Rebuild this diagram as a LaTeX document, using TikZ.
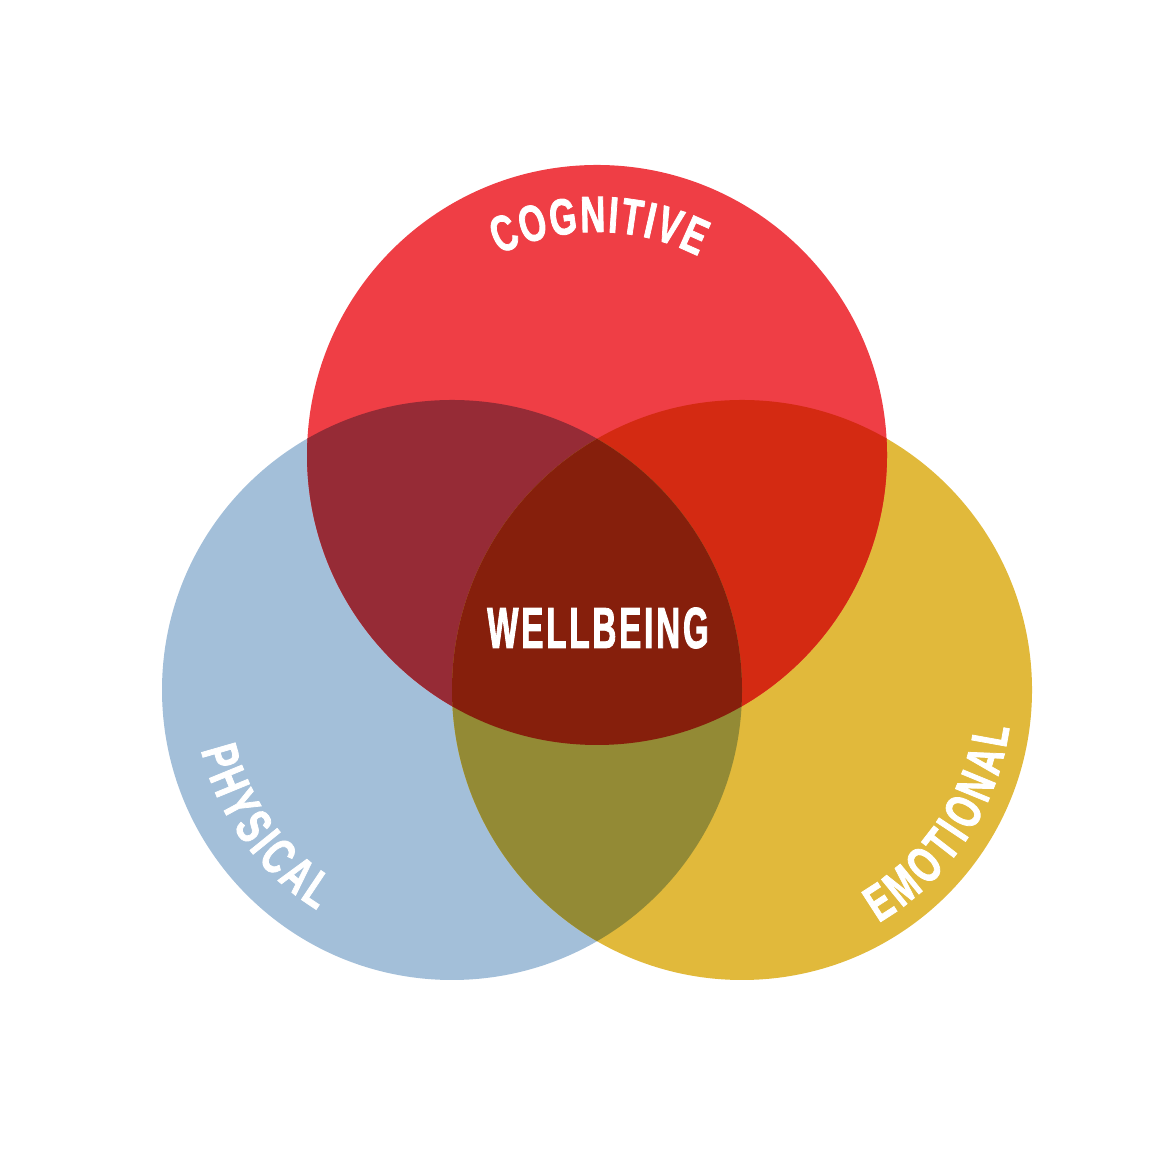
\documentclass[tikz,border=0pt]{standalone}
\usepackage{fontspec}
\newfontfamily\labelfont{Liberation Sans Bold}[FakeStretch=0.68,FakeBold=1.5]
\newfontfamily\wellfont{Liberation Sans Bold}[FakeStretch=0.57,FakeBold=1.5,LetterSpace=5]
\usetikzlibrary{decorations.text}
\definecolor{cogred}{HTML}{EF3E45}
\definecolor{physblue}{HTML}{A3BFD9}
\definecolor{emoyellow}{HTML}{E1B93B}
\definecolor{cogphys}{HTML}{962B36}
\definecolor{cogemo}{HTML}{D42A12}
\definecolor{physemo}{HTML}{938A35}
\definecolor{wellred}{HTML}{861F0C}
\tikzset{%
ring/.style={circle,minimum size=5.8cm,inner sep=0pt,outer sep=0pt,fill=#1},
arclabel/.style={decorate,decoration={text along path,text color=white,text align=fit to path,
                 text={|\labelfont\fontsize{14.5pt}{14.5pt}\selectfont|#1}}},
centerlabel/.style={text=white,inner sep=0pt,font=\wellfont\fontsize{16.5pt}{16.5pt}\selectfont}
}
\begin{document}
\begin{tikzpicture}
\useasboundingbox (0,0) rectangle (11.7,11.7);
\node[ring=physblue]   (phys) at (4.52,4.80) {};
\node[ring=emoyellow]  (emo)  at (7.42,4.80) {};
\node[ring=cogred]     (cog)  at (5.97,7.15) {};

% pairwise overlaps
\foreach \a/\b/\c in {cog/phys/cogphys,
                      cog/emo/cogemo,
                      phys/emo/physemo}
{
  \begin{scope}
  \clip (\a.center) circle (2.9);
  \fill[\c] (\b.center) circle (2.9);
  \end{scope}
}
% all three
\begin{scope}
\clip (cog.center) circle (2.9);
\clip (phys.center) circle (2.9);
\fill[wellred] (emo.center) circle (2.9);
\end{scope}

\path[arclabel=COGNITIVE] ([shift={(116:2.23)}]cog.center)    arc[start angle=116,end angle=63,radius=2.23];
\path[arclabel=PHYSICAL]  ([shift={(193.5:2.58)}]phys.center) arc[start angle=193.5,end angle=238.5,radius=2.58];
\path[arclabel=EMOTIONAL] ([shift={(300.4:2.70)}]emo.center)  arc[start angle=300.4,end angle=352,radius=2.70];

\node[centerlabel] (well) at (5.98,5.42) {WELLBEING};
\end{tikzpicture}
\end{document}
